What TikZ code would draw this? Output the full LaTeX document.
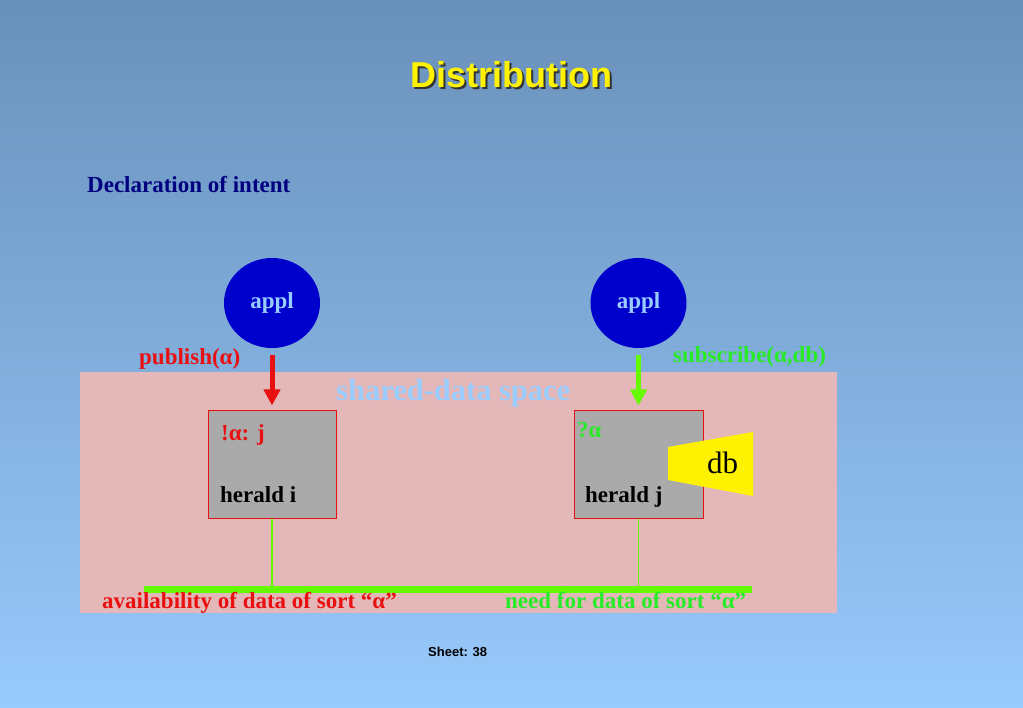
\documentclass[tikz,border=0pt]{standalone}
\usepackage{fontspec}
\setmainfont{Liberation Serif}
\newfontfamily\headfont{Liberation Sans}
\usetikzlibrary{positioning,shapes.geometric,arrows.meta}
\newcommand{\fsz}[1]{\fontsize{#1}{#1}\selectfont}
\definecolor{bgtop}{RGB}{105,144,186}
\definecolor{bgbot}{RGB}{152,202,252}
\definecolor{spacepink}{RGB}{228,184,184}
\definecolor{applblue}{RGB}{0,0,204}
\definecolor{lightblue}{RGB}{153,204,255}
\definecolor{pubred}{RGB}{232,16,16}
\definecolor{subgreen}{RGB}{40,235,40}
\definecolor{buslime}{RGB}{102,250,0}
\definecolor{heraldgray}{RGB}{170,170,170}
\definecolor{navy}{RGB}{0,0,128}
\tikzset{appl node/.style={ellipse,fill=applblue,minimum width=96pt,
minimum height=90pt,inner sep=0pt,text=lightblue,font=\bfseries\fsz{23}},
herald node/.style={rectangle,draw=pubred,fill=heraldgray,line width=1pt,
minimum height=107pt,inner sep=0pt},
lbl/.style={anchor=base west,inner sep=0pt,font=\bfseries\fsz{23}},
pub arrow/.style={draw=pubred,line width=5pt,shorten >=5pt,
-{Triangle[width=16pt,length=16pt]}},
sub arrow/.style={draw=buslime,line width=5pt,shorten >=5pt,
-{Triangle[width=16pt,length=16pt]}},
bus link/.style={draw=buslime,line width=1.5pt}}

\begin{document}
\begin{tikzpicture}[x=1pt,y=-1pt]
\shade[top color=bgtop,bottom color=bgbot] (0,0) rectangle (1023,708);
\fill[spacepink] (80,372) rectangle (837,613);

% heading
\node[anchor=base,text=black!80,font=\headfont\bfseries\fsz{36}] (titleshadow) at (513.5,90) {Distribution};
\node[anchor=base,text=yellow,font=\headfont\bfseries\fsz{36}] (title) at (511.5,88) {Distribution};
\node[lbl,text=navy] (intent) at (87,193) {Declaration of intent};

\node[lbl,text=lightblue,font=\bfseries\fsz{30.5}] (space) at (336,401) {shared-data space};

\node[appl node] (appli) at (272,303) {appl};
\node[appl node] (applj) at (638.5,303) {appl};
\node[herald node,minimum width=128pt] (heraldi) at (272,464.5) {};
\node[herald node,minimum width=129pt] (heraldj) at (638.5,464.5) {};

\fill[yellow] (668,447) -- (753,432) -- (753,496) -- (668,480) -- cycle;
\node[lbl,font=\fsz{31}] (db) at (707,474) {db};

\node[lbl,text=pubred] (publish) at (139,365) {publish(α)};
\node[lbl,text=subgreen] (subscribe) at (673,363) {subscribe(α,db)};
\node[lbl,text=pubred] (pubi) at (221,440) {!α: j};
\node[lbl,text=subgreen] (subj) at (577,438) {?α};
\node[lbl] (namei) at (220,502) {herald i};
\node[lbl] (namej) at (585,502) {herald j};

\draw[pub arrow] ([yshift=-7pt]appli.south) -- (heraldi.north);
\draw[sub arrow] ([yshift=-7pt]applj.south) -- (heraldj.north);

\coordinate (busl) at (144,589.5);
\coordinate (busr) at (752,589.5);
\draw[bus link] (heraldi.south) -- (heraldi.south |- busl);
\draw[bus link] (heraldj.south) -- (heraldj.south |- busl);
\draw[draw=buslime,line width=7pt] (busl) -- (busr);

\node[lbl,text=pubred] (avail) at (102,608) {availability of data of sort “α”};
\node[lbl,text=subgreen] (need) at (505,608) {need for data of sort “α”};

\node[anchor=base west,inner sep=0pt,font=\headfont\bfseries\fsz{13}] (sheet) at (428,656) {Sheet: 38};
\end{tikzpicture}
\end{document}
